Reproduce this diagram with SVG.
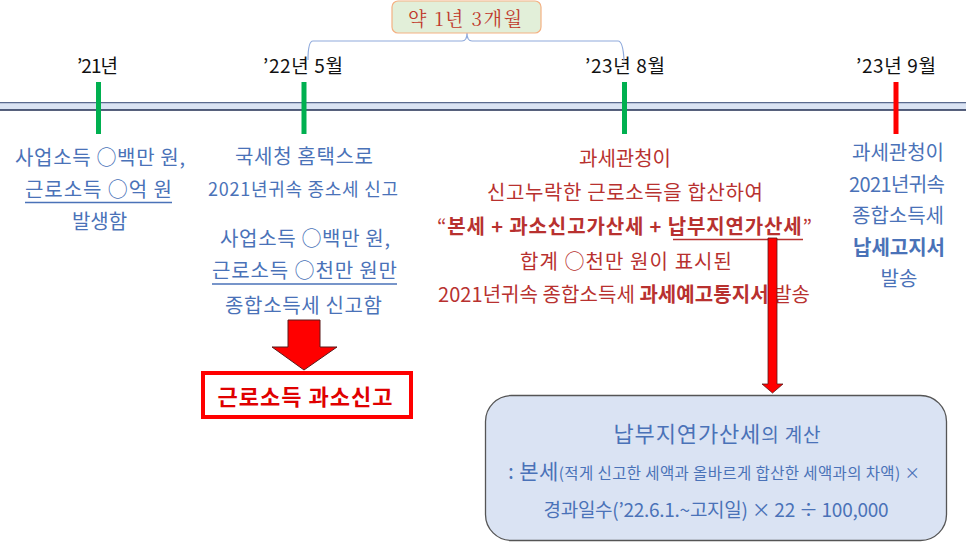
<svg xmlns="http://www.w3.org/2000/svg" width="966" height="543" viewBox="0 0 966 543">
<defs>
<style>
text{font-family:"Noto Sans CJK KR","Noto Sans",sans-serif;text-anchor:middle}
.b{fill:#4a72b8;font-size:20px}
.r{fill:#b8312f;font-size:20px}
.k{fill:#111;font-size:19px}
.bold{font-weight:bold}
.ul{stroke-width:1.3}
</style>
</defs>
<rect width="966" height="543" fill="#fff"/>
<g id="timeline">
<rect x="0" y="102" width="966" height="8" fill="#dae3f3"/>
<line x1="0" y1="102.6" x2="966" y2="102.6" stroke="#5a6a8e" stroke-width="1.2"/>
<line x1="0" y1="110" x2="966" y2="110" stroke="#1f2d50" stroke-width="1.5"/>
</g>
<g id="tick-21"><rect x="96" y="82" width="5" height="52" fill="#00b050"/><text class="k" x="97.5" y="73" textLength="41">’21년</text></g>
<g id="tick-22"><rect x="301.5" y="82" width="5" height="52" fill="#00b050"/><text class="k" x="303" y="73" textLength="80">’22년 5월</text></g>
<g id="tick-23-8"><rect x="622" y="82" width="5" height="52" fill="#00b050"/><text class="k" x="625" y="73" textLength="80">’23년 8월</text></g>
<g id="tick-23-9"><rect x="893.5" y="82" width="5" height="52" fill="#ff0000"/><text class="k" x="896" y="73" textLength="80">’23년 9월</text></g>
<g id="period">
<path d="M308,60 Q308,41 313,41 L462,41 Q467,41 467,33 Q467,41 472,41 L618,41 Q623,41 624,60" fill="none" stroke="#8faadc" stroke-width="1.2"/>
<rect x="392" y="1" width="149" height="32" rx="6" fill="#e2efd9" stroke="#f4b183" stroke-width="1.2"/>
<text x="465" y="26" textLength="114" style="fill:#c0392b;font-size:19px;font-family:'Noto Serif CJK KR','Liberation Serif','Noto Sans CJK KR',serif">약 1년 3개월</text>
</g>
<g id="note-21">
<text class="b" x="100" y="165" textLength="170">사업소득 ○백만 원,</text>
<text class="b" x="98.5" y="197" textLength="147">근로소득 ○억 원</text>
<line class="ul" x1="25" y1="202.5" x2="172" y2="202.5" stroke="#4a72b8"/>
<text class="b" x="99.5" y="229">발생함</text>
</g>
<g id="note-22">
<text class="b" x="304" y="164" textLength="138">국세청 홈택스로</text>
<text class="b" x="303" y="196" textLength="190" style="font-size:18px">2021년귀속 종소세 신고</text>
<text class="b" x="305" y="246" textLength="170">사업소득 ○백만 원,</text>
<text class="b" x="304.5" y="278" textLength="185">근로소득 ○천만 원만</text>
<line class="ul" x1="212" y1="284" x2="397" y2="284" stroke="#4a72b8"/>
<text class="b" x="303.5" y="313" textLength="157">종합소득세 신고함</text>
</g>
<g id="down-arrow">
<path d="M288,320 L320,320 L320,347 L337,347 L304,370 L272,347 L288,347 Z" fill="#ff0000" stroke="#5a1a1a" stroke-width="1"/>
</g>
<g id="under-report">
<rect x="203" y="373" width="208" height="44" fill="#fff" stroke="#ff0000" stroke-width="4"/>
<text x="305" y="405" class="bold" textLength="175" style="fill:#e00000;font-size:22px">근로소득 과소신고</text>
</g>
<g id="note-23-8">
<text class="r" x="625" y="166">과세관청이</text>
<text class="r" x="625" y="200" textLength="276">신고누락한 근로소득을 합산하여</text>
<text class="r" x="624.5" y="234" textLength="375"><tspan>“</tspan><tspan class="bold">본세 + 과소신고가산세 + 납부지연가산세</tspan><tspan>”</tspan></text>
<line class="ul" x1="673" y1="239.5" x2="803" y2="239.5" stroke="#b8312f"/>
<text class="r" x="626" y="269" textLength="212">합계 ○천만 원이 표시된</text>
<text class="r" x="624" y="302" textLength="372">2021년귀속 종합소득세 <tspan class="bold">과세예고통지서</tspan> 발송</text>
</g>
<g id="note-23-9">
<text class="b" x="898" y="160">과세관청이</text>
<text class="b" x="897" y="192" textLength="96">2021년귀속</text>
<text class="b" x="898" y="223">종합소득세</text>
<text class="b bold" x="899" y="255" textLength="92">납세고지서</text>
<text class="b" x="899" y="286">발송</text>
</g>
<g id="connectors">
<path d="M768,238 L777,238 L777,384 L783,384 L772.5,393 L762,384 L768,384 Z" fill="#ff0000" stroke="#5a1a1a" stroke-width="0.8"/>
</g>
<g id="calc-box">
<rect x="485.5" y="395.5" width="461" height="145" rx="26" fill="#dae3f3" stroke="#555" stroke-width="1.3"/>
<text x="717" y="442" textLength="207" style="fill:#4a72b8;font-size:22px">납부지연가산세<tspan style="font-size:19px">의 계산</tspan></text>
<text x="714" y="479" textLength="412" style="fill:#4a72b8;font-size:21px">: 본세<tspan style="font-size:15.5px">(적게 신고한 세액과 올바르게 합산한 세액과의 차액) ×</tspan></text>
<text x="716" y="517" textLength="345" style="fill:#4a72b8;font-size:19px">경과일수(’22.6.1.~고지일) × 22 ÷ 100,000</text>
</g>
</svg>
